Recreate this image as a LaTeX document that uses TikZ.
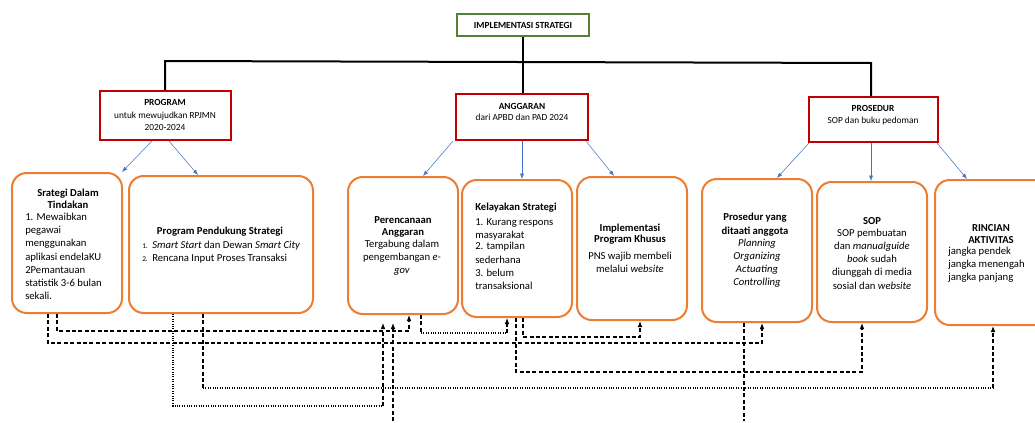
\documentclass[tikz,border=0pt]{standalone}
\usepackage{fontspec}
\setmainfont{Carlito}
\usetikzlibrary{fit,arrows.meta}
\definecolor{orng}{HTML}{ED7D31}
\definecolor{redb}{HTML}{C00000}
\definecolor{grn}{HTML}{538135}
\definecolor{bluc}{HTML}{4472C4}
\tikzset{
 obox/.style={draw=orng, line width=1.5pt, rounded corners=11pt, fill=white, inner sep=0pt},
 rbox/.style={draw=redb, line width=1.5pt, fill=white, inner sep=0pt},
 gbox/.style={draw=grn, line width=1.5pt, fill=white, inner sep=0pt},
 trunk/.style={line width=1.5pt, black},
 blu/.style={draw=bluc, line width=0.4pt, -{Latex[length=4pt,width=3pt]}},
 dsh/.style={line width=0.8pt, dash pattern=on 3pt off 1.8pt},
 dtt/.style={line width=0.8pt, dash pattern=on 0.8pt off 1pt},
 arr/.style={-{Latex[length=4.5pt,width=3.5pt]}},
 txt/.style={inner sep=0pt, font=\fontsize{8}{9.9}\selectfont},
 itxt/.style={inner sep=0pt, font=\itshape\fontsize{8}{9.75}\selectfont},
 ttl/.style={inner sep=0pt, font=\bfseries\fontsize{8}{9}\selectfont},
 toptxt/.style={inner sep=0pt, font=\fontsize{7}{7}\selectfont},
 topttl/.style={inner sep=0pt, font=\bfseries\fontsize{7}{7}\selectfont},
}
\newcommand{\lnum}[1]{\makebox[7.5pt][l]{\fontsize{5.5}{6}\selectfont #1}}
\begin{document}
\begin{tikzpicture}[x=0.75pt,y=-0.75pt]
\useasboundingbox (0,0) rectangle (1035,422);
% top level boxes
\node[gbox, fit={(457,14) (589,36)}] (g) {};
\node[rbox, fit={(100,91) (231,140)}] (prog) {};
\node[rbox, fit={(456,94) (588,140)}] (ang) {};
\node[rbox, fit={(809,97) (938,142)}] (pros) {};
\node[topttl] (tg) at (523,25) {IMPLEMENTASI STRATEGI};
\node[topttl] (tpa) at (165,102) {PROGRAM};
\node[toptxt, align=center] (tpb) at (165,121.5) {untuk mewujudkan RPJMN\\[2pt]2020-2024};
\node[topttl] (taa) at (522,106) {ANGGARAN};
\node[toptxt] (tab) at (522,117) {dari APBD dan PAD 2024};
\node[topttl] (tra) at (873,108) {PROSEDUR};
\node[toptxt] (trb) at (873,121) {SOP dan buku pedoman};
% trunk lines
\draw[trunk] (g.south) -- (g.south |- ang.north);
\draw[trunk] (prog.north -| 165,0) -- (165,61) -- (871,63) -- (871,0 |- pros.north);
% second level boxes
\node[obox, fit={(12,173) (122,313)}] (b1) {};
\node[obox, fit={(129,176) (313,313)}] (b2) {};
\node[obox, fit={(348,177) (458,314)}] (b3) {};
\node[obox, fit={(462,180) (572,317)}] (b4) {};
\node[obox, fit={(577,177) (687,320)}] (b5) {};
\node[obox, fit={(702,179) (812,322)}] (b6) {};
\node[obox, fit={(817,182) (927,322)}] (b7) {};
\node[obox, fit={(935,180) (1050,325)}] (b8) {};
% blue arrows
\draw[blu] (152,0 |- prog.south) -- (122,0 |- b1.north);
\draw[blu] (169,0 |- prog.south) -- (198,0 |- b2.north);
\draw[blu] (453,0 |- ang.south) -- (423,0 |- b3.north);
\draw[blu] (522,0 |- ang.south) -- (522,0 |- b4.north);
\draw[blu] (586,0 |- ang.south) -- (614,0 |- b5.north);
\draw[blu] (809,0 |- pros.south) -- (777,0 |- b6.north);
\draw[blu] (871,0 |- pros.south) -- (871,0 |- b7.north);
\draw[blu] (937,0 |- pros.south) -- (967,0 |- b8.north);
% texts box 1
\node[ttl, align=center] (t1a) at (68,199) {Srategi Dalam\\Tindakan};
\node[txt, align=left, anchor=west] (t1b) at (25,256.5) {1. Mewaibkan\\pegawai\\menggunakan\\aplikasi endelaKU\\2Pemantauan\\statistik 3-6 bulan\\sekali.};
% box 2
\node[ttl] (t2a) at (220,232) {Program Pendukung Strategi};
\node[txt, align=left, anchor=west] (t2b) at (142,252.5) {\lnum{1.}\textit{Smart Start} dan Dewan \textit{Smart City}\\\lnum{2.}Rencana Input Proses Transaksi};
% box 3
\node[ttl, align=center] (t3a) at (403,227) {Perencanaan\\Anggaran};
\node[txt, align=center] (t3b) at (402,258) {Tergabung dalam\\pengembangan \textit{e-}\\\textit{gov}};
% box 4
\node[ttl, anchor=west] (t4a) at (475,208) {Kelayakan Strategi};
\node[txt, align=left, anchor=west] (t4b) at (475,229.5) {1. Kurang respons\\masyarakat};
\node[txt, align=left, anchor=west] (t4c) at (475,266) {2. tampilan\\sederhana\\3. belum\\transaksional};
% box 5
\node[ttl] (t5a) at (630,229) {Implementasi};
\node[ttl] (t5b) at (630,240) {Program Khusus};
\node[txt, align=center] (t5c) at (630,262) {PNS wajib membeli\\melalui \textit{website}};
% box 6
\node[ttl, align=center] (t6a) at (755,224.5) {Prosedur yang\\[1.5pt]ditaati anggota};
\node[itxt, align=center] (t6b) at (757,263) {Planning\\Organizing\\Actuating\\Controlling};
% box 7
\node[ttl] (t7a) at (872,221) {SOP};
\node[txt, align=center] (t7b) at (872,259) {SOP pembuatan\\dan \textit{manualguide}\\\textit{book} sudah\\diunggah di media\\sosial dan \textit{website}};
% box 8
\node[ttl, align=center] (t8a) at (991,234) {RINCIAN\\AKTIVITAS};
\node[txt, align=left, anchor=west] (t8b) at (948,265) {jangka pendek\\jangka menengah\\jangka panjang};
% connectors
\coordinate (e3) at (383,323);
\coordinate (e4) at (393,323);
\coordinate (f4) at (393,421);
\coordinate (f9) at (744,421);
\draw[dsh,arr] (48,0 |- b1.south) -- (48,343) -- (762,343) -- (762,0 |- b6.south);
\draw[dsh,arr] (57,0 |- b1.south) -- (57,331) -- (409,331) -- (409,0 |- b3.south);
\draw[dtt] (173,0 |- b2.south) -- (173,406) -- (383,406);
\draw[dsh,arr] (383,406) -- (e3);
\draw[dsh,arr] (f4) -- (e4);
\draw[dsh] (203,0 |- b2.south) -- (203,388);
\draw[dtt] (203,388) -- (993,388);
\draw[dsh,arr] (993,388) -- (993,0 |- b8.south);
\draw[dsh] (421,0 |- b3.south) -- (421,333);
\draw[dtt] (421,333) -- (507,333);
\draw[dsh,arr] (507,333) -- (507,0 |- b4.south);
\draw[dsh,arr] (523,0 |- b4.south) -- (523,337) -- (640,337) -- (640,0 |- b5.south);
\draw[dsh,arr] (516,0 |- b4.south) -- (516,372) -- (862,372) -- (862,0 |- b7.south);
\draw[dsh] (744,0 |- b6.south) -- (f9);
\end{tikzpicture}
\end{document}
